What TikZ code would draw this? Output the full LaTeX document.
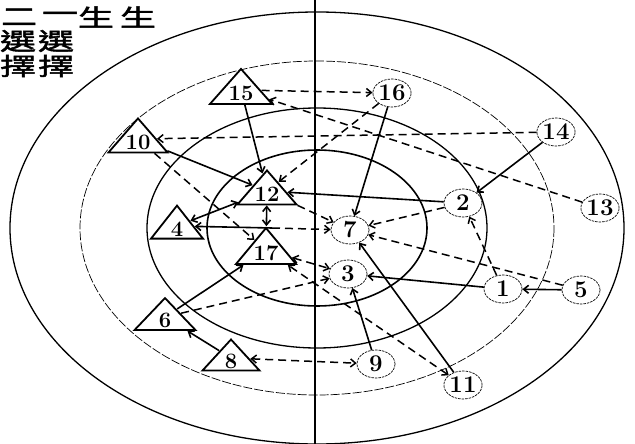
\documentclass[tikz,border=0pt]{standalone}
\usepackage{fontspec}
\newfontfamily\cjk{Noto Sans CJK TC}[FakeStretch=1.5,FakeBold=2]
\usetikzlibrary{shapes.geometric,arrows.meta}
\newcommand\trilab[1]{\makebox[0pt]{\raisebox{-.48em}[0pt][0pt]{#1}}}
\begin{document}
\begin{tikzpicture}[x=1pt,y=-1pt,
  num/.style={font=\bfseries\fontsize{24}{24}\selectfont},
  tri/.style={font=\bfseries\fontsize{22}{22}\selectfont,draw,line width=1.8pt,isosceles triangle,shape border rotate=90,
    isosceles triangle stretches,inner sep=0pt,minimum width=#1,minimum height=34pt},
  circ/.style={num,ellipse,draw,line width=0.7pt,dash pattern=on 2.5pt off 1pt,
    minimum width=38pt,minimum height=28pt,inner sep=0pt},
  sol/.style={line width=1.6pt,-{Straight Barb[length=5pt,width=8pt]}},
  solb/.style={line width=1.6pt,{Straight Barb[length=5pt,width=8pt]}-{Straight Barb[length=5pt,width=8pt]}},
  dsh/.style={line width=1.5pt,dash pattern=on 8pt off 5pt,-{Straight Barb[length=5pt,width=8pt]}},
  dshb/.style={line width=1.5pt,dash pattern=on 8pt off 5pt,{Straight Barb[length=5pt,width=8pt]}-{Straight Barb[length=5pt,width=8pt]}},
  cj/.style={font=\cjk\fontsize{24}{24}\selectfont,inner sep=0pt}]
\useasboundingbox (0,0) rectangle (635,444);
\fill[white] (0,0) rectangle (635,444);
% rings
\draw[line width=1.3pt] (317,228) ellipse [x radius=307, y radius=216];
\draw[line width=0.7pt,dash pattern=on 9pt off 2pt] (317,228) ellipse [x radius=237, y radius=167];
\draw[line width=1.3pt] (317,228) ellipse [x radius=170, y radius=120];
\draw[line width=1.6pt] (317,228) ellipse [x radius=110, y radius=78];
\draw[line width=2.4pt] (315,0) -- (315,444);
% title text
\node[cj] (h1) at (19,17) {二};
\node[cj] (h2) at (60,17) {一};
\node[cj] (h3) at (96,17) {生};
\node[cj] (h4) at (138,17) {生};
\node[cj] (h5) at (18,41) {選};
\node[cj] (h6) at (56,41) {選};
\node[cj] (h7) at (18,66) {擇};
\node[cj] (h8) at (56,66) {擇};
% triangles
\node[tri=62pt,minimum height=35pt] (t15) at (241,90) {\trilab{15}};
\node[tri=59pt] (t10) at (138,139) {\trilab{10}};
\node[tri=59pt] (t12) at (267,191) {\trilab{12}};
\node[tri=52pt,minimum height=33pt] (t4) at (177,226) {\trilab{4}};
\node[tri=60pt,minimum height=36pt] (t17) at (266,250) {\trilab{17}};
\node[tri=61pt,minimum height=32pt] (t6) at (165,317) {\trilab{6}};
\node[tri=57pt,minimum height=31pt,shape border rotate=81] (t8) at (231,358) {\trilab{8}};
% circles
\node[circ] (c16) at (392,93) {16};
\node[circ] (c14) at (556,132) {14};
\node[circ] (c13) at (600,208) {13};
\node[circ] (c2) at (463,203) {2};
\node[circ] (c7) at (350,230) {7};
\node[circ] (c3) at (348,274) {3};
\node[circ] (c1) at (503,289) {1};
\node[circ] (c5) at (581,290) {5};
\node[circ] (c9) at (376,364) {9};
\node[circ] (c11) at (463,385) {11};
% solid choices
\draw[sol] (t15) -- (t12);
\draw[sol] (t10) -- (t12);
\draw[sol] (c2) -- (t12);
\draw[sol] (c14) -- (c2);
\draw[sol] (c16) -- (c7);
\draw[sol] (c11) -- (c7);
\draw[sol] (c9) -- (c3);
\draw[sol] (c1) -- (c3);
\draw[sol] (c5) -- (c1);
\draw[sol] (t8) -- (t6);
\draw[sol] (t6) -- (t17);
\draw[solb] (t4) -- (t12);
\draw[solb] (t17) -- (t12);
\coordinate (m47) at (272,228);
\draw[sol] (m47) -- (t4);
\draw[dsh] (m47) -- (c7);
% dashed choices
\draw[dsh] (t15) -- (c16);
\draw[dsh] (c16) -- (t12);
\draw[dsh] (c13) -- (t15);
\draw[dsh] (c14) -- (t10);
\draw[dsh] (t10) -- (t17);
\draw[dsh] (c2) -- (c7);
\draw[dsh] (c5) -- (c7);
\draw[dsh] (c1) -- (c2);
\draw[dsh] (t12) -- (c7);
\draw[dshb] (t17) -- (c3);
\draw[dsh] (t6) -- (c3);
\draw[dshb] (c11) -- (t17);
\draw[dshb] (t8) -- (c9);
\end{tikzpicture}
\end{document}
